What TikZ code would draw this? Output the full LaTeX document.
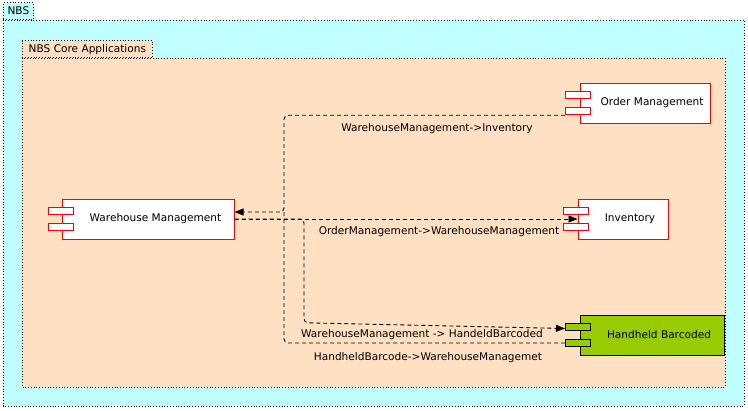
\documentclass[tikz,border=0pt]{standalone}
\usepackage{fontspec}
\setmainfont{DejaVu Sans}
\usetikzlibrary{arrows.meta}
\definecolor{nbscyan}{RGB}{192,255,255}
\definecolor{corepeach}{RGB}{255,224,194}
\definecolor{hbgreen}{RGB}{153,204,0}
\tikzset{
  pkg/.style={draw,dotted,line width=.8bp},
  tabbox/.style={pkg,minimum height=17bp,inner sep=2bp,anchor=south west},
  compbox/.style={rectangle,minimum height=40bp,inner sep=0pt,line width=1bp},
  port/.style={rectangle,minimum width=25bp,minimum height=7.5bp,inner sep=0pt,line width=1bp},
  dep/.style={draw,line width=.9bp,dash pattern=on 4bp off 3bp,rounded corners=4bp},
  tip/.style={-{Triangle[length=9bp,width=7bp]}}
}
\newcommand{\comp}[5]{%
  \node[compbox,minimum width=#3,#5](#1) at (#2) {\hspace*{14bp}#4};
  \node[port,#5](#1-p1) at ([xshift=-1.5bp,yshift=8bp]#1.west) {};
  \node[port,#5](#1-p2) at ([xshift=-1.5bp,yshift=-8bp]#1.west) {};}

\begin{document}
\begin{tikzpicture}[x=1bp,y=-1bp,font=\fontsize{10.6}{12}\selectfont]
\useasboundingbox (0,0) rectangle (748,410);
% packages
\draw[pkg,fill=nbscyan] (3,20) rectangle (744,406);
\node[tabbox,fill=nbscyan,minimum width=30bp](nbs) at (3,20) {NBS};
\draw[pkg,fill=corepeach] (22,58) rectangle (725,387);
\node[tabbox,fill=corepeach,minimum width=130bp](core) at (22,58) {NBS Core Applications};

% components
\comp{om}{645,103}{130bp}{Order Management}{draw=red,fill=white}
\comp{wm}{148.5,219}{171bp}{Warehouse Management}{draw=red,fill=white}
\comp{inv}{623,219}{90bp}{Inventory}{draw=red,fill=white}
\comp{hb}{652,335}{144bp}{Handheld Barcoded}{draw=black,fill=hbgreen}

\coordinate (j1) at (284,212);
\coordinate (j2) at (304,219);

% dependencies
\draw[dep,tip] (om-p2.south west) -| (j1) -- (j1 -| wm.east);
\draw[dep] (hb-p2.west) -| (j1);
\draw[dep,tip] (wm.east) -- (inv.west);
\draw[dep,tip] (wm.east) -| (j2 |- hb-p1.north west) -- ([yshift=-1.5bp]hb-p1.west);

\node(l1) at (437,129) {WarehouseManagement->Inventory};
\node(l2) at (439,232) {OrderManagement->WarehouseManagement};
\node(l3) at (422,335) {WarehouseManagement -> HandeldBarcoded};
\node(l4) at (428,358) {HandheldBarcode->WarehouseManagemet};
\end{tikzpicture}
\end{document}
